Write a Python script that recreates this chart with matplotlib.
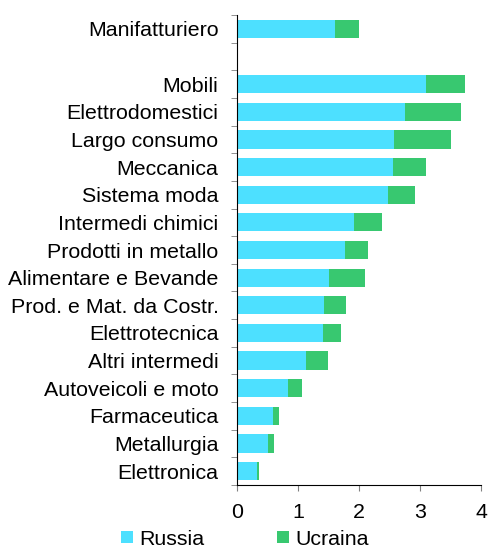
import numpy as np
import matplotlib
matplotlib.use("Agg")
import matplotlib.pyplot as plt

plt.rcParams['font.family'] = ['Liberation Sans', 'DejaVu Sans']

# settori dall'alto verso il basso; "" = riga vuota di separazione
settori = ["Manifatturiero", "", "Mobili", "Elettrodomestici", "Largo consumo",
           "Meccanica", "Sistema moda", "Intermedi chimici", "Prodotti in metallo",
           "Alimentare e Bevande", "Prod. e Mat. da Costr.", "Elettrotecnica",
           "Altri intermedi", "Autoveicoli e moto", "Farmaceutica", "Metallurgia",
           "Elettronica"]
russia = [1.60, 0, 3.09, 2.75, 2.57, 2.56, 2.47, 1.92, 1.77, 1.51, 1.42, 1.41,
          1.13, 0.84, 0.59, 0.50, 0.33]
ucraina = [0.40, 0, 0.65, 0.92, 0.94, 0.54, 0.44, 0.46, 0.38, 0.58, 0.36, 0.30,
           0.36, 0.22, 0.09, 0.10, 0.03]

col_ru = "#4DE0FF"
col_ua = "#38C870"

fig = plt.figure(figsize=(4.9, 5.47), dpi=100)
ax = fig.add_axes([0.484, 0.1133, 0.498, 0.8593])

y = np.arange(len(settori))
ax.barh(y, russia, height=0.66, color=col_ru, label="Russia")
ax.barh(y, ucraina, left=russia, height=0.66, color=col_ua, label="Ucraina")

ax.set_ylim(len(settori) - 0.5, -0.5)
ax.set_xlim(0, 4)
ax.set_yticks(y)
ax.set_yticklabels(settori, fontsize=15.4)
ax.set_yticks(np.arange(len(settori) + 1) - 0.5, minor=True)
ax.tick_params(axis="y", which="major", length=0, pad=13.5)
ax.tick_params(axis="y", which="minor", length=4, direction="out", color="#808080")
ax.set_xticks([0, 1, 2, 3, 4])
ax.tick_params(axis="x", labelsize=15.4, length=4, direction="out",
               color="#808080", pad=9)

for s in ["top", "right"]:
    ax.spines[s].set_visible(False)
ax.spines["left"].set_color("black")
ax.spines["bottom"].set_color("black")

fig.legend(loc="lower center", ncol=2, frameon=False, fontsize=15.4,
           bbox_to_anchor=(0.5, -0.038), handlelength=0.55, handleheight=0.55,
           columnspacing=3.4, handletextpad=0.3)

fig.savefig("out.png", dpi=100)
